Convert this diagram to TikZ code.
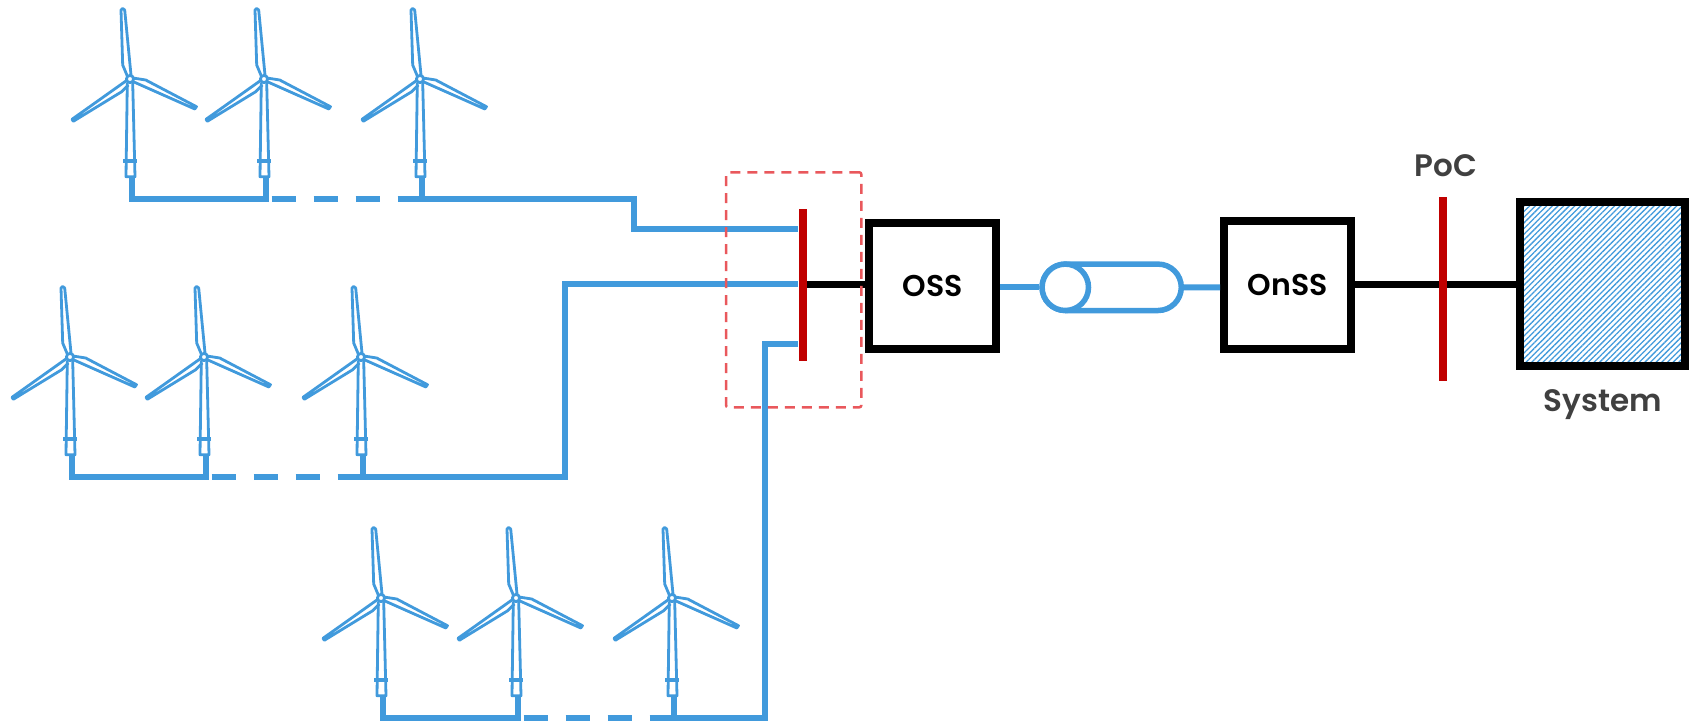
\documentclass[tikz,border=0pt]{standalone}
\usepackage{fontspec}
\setmainfont{Poppins}[BoldFont={Poppins SemiBold}]
\usepackage{xcolor}
\usetikzlibrary{positioning,patterns.meta,shapes.misc}
\definecolor{cableblue}{HTML}{419ADC}
\definecolor{busred}{HTML}{C00000}
\definecolor{zonered}{HTML}{E9585C}
\definecolor{labelgrey}{HTML}{404040}
\tikzset{
  turbine/.pic={
    \draw[blade] (-2.7,-3) -- (-7.3,-14) -- (-9,-69) -- (-7.3,-70.5) -- (-5.3,-69) -- (1,-4);
    \draw[blade] (3,-1) -- (15.7,1) -- (66.5,27.7) -- (64.8,30) -- (3.3,2.7);
    \draw[blade] (-2.7,1) -- (-58,40.3) -- (-56.7,42.3) -- (-8.3,12.7) -- (-1.7,6);
    \draw[blade] (-2.7,3.7) -- (-4,97.7) -- (5,97.7) -- (2.7,3.7);
    \draw[blade, line width=1.8pt] (-6.7,81.7) -- (7.3,81.7);
    \draw[blade, fill=white] (0,0) circle (3.6);
    \coordinate (-foot) at (1.7,97.7);
    \coordinate (-tap) at (1.7,120);
  }
}
\begin{document}
\begin{tikzpicture}[
      x=0.5pt, y=-0.5pt,
      node distance=3pt,
      blade/.style={draw=cableblue, line width=1.4pt, line join=round},
      feeder/.style={cableblue, line width=3pt},
      broken/.style={feeder, dash pattern=on 12pt off 9pt},
      link/.style={black, line width=3.4pt},
      subst/.style={draw=black, fill=white, line width=4pt, minimum width=63.5pt, minimum height=63.3pt,
                    inner sep=0pt, font=\bfseries\fontsize{15}{18}\selectfont},
      busbar/.style={fill=busred, inner sep=0pt, minimum width=4pt},
      tag/.style={text=labelgrey, inner sep=0pt, font=\bfseries\fontsize{15.5}{18}\selectfont},
      tube/.style={draw=cableblue, line width=2.75pt, inner sep=0pt}
    ]
    \useasboundingbox (0,0) rectangle (1694,723);
    % upper string
    \pic (ta) at (130,79) {turbine};
    \pic (tb) at (264,79) {turbine};
    \pic (tc) at (420,79) {turbine};
    % middle string
    \pic (tm) at (70,357) {turbine};
    \pic (tn) at (204,357) {turbine};
    \pic (to) at (361,357) {turbine};
    % lower string
    \pic (tx) at (381,598) {turbine};
    \pic (ty) at (516,598) {turbine};
    \pic (tz) at (672,598) {turbine};

    \node[busbar, minimum height=76pt] (bus) at (802.7,285) {};
    \node[subst] (oss) at (932.8,286) {\raisebox{-1pt}{OSS}};
    \node[subst, minimum width=63.6pt, minimum height=63.7pt] (onss) at (1287.7,285) {\raisebox{-1pt}{OnSS}};
    \node[subst, minimum width=82.5pt, minimum height=82pt, pattern={Lines[angle=45,distance=2pt,line width=0.65pt]},
          pattern color=cableblue] (system) at (1602.8,284.3) {};
    \node[tube, rounded rectangle, minimum width=69.6pt, minimum height=23.2pt] (cable) at (1111.7,287.3) {};
    \node[tube, circle, fill=white, minimum size=23.2pt] (cablend) at (1065.3,287.3) {};
    \coordinate (ja) at (634,229);
    \coordinate (jb) at (565,284.3);
    \coordinate (jc) at (764.7,343.7);

    \draw[feeder] (ta-foot) -- (ta-tap) -- (tb-tap) -- (tb-foot);
    \draw[broken] ([xshift=3pt]tb-tap) -- (tc-tap);
    \draw[feeder] (tc-foot) -- (tc-tap) -| (ja) -- (bus.west |- ja);
    \draw[feeder] (tm-foot) -- (tm-tap) -- (tn-tap) -- (tn-foot);
    \draw[broken] ([xshift=3pt]tn-tap) -- (to-tap);
    \draw[feeder] (to-foot) -- (to-tap) -| (jb) -- (bus.west |- jb);
    \draw[feeder] (tx-foot) -- (tx-tap) -- (ty-tap) -- (ty-foot);
    \draw[broken] ([xshift=3pt]ty-tap) -- (tz-tap);
    \draw[feeder] (tz-foot) -- (tz-tap) -| (jc) -- (bus.west |- jc);

    \draw[link] (bus.east |- jb) -- (oss.west |- jb);
    \draw[feeder] (oss.east |- cable) -- (cablend);
    \draw[feeder] (cable) -- (onss.west |- cable);
    \draw[link] (onss.east |- system) -- (system.west);
    \node[busbar, minimum height=91.7pt] (poc) at (1443,289) {};
    \node[tag, above=10pt of poc, xshift=1.5pt] (poclabel) {PoC};
    \node[tag, below=11pt of system] (systemlabel) {System};
    \node[draw=zonered, line width=1.25pt, dash pattern=on 5pt off 3.5pt, rounded corners=1pt,
          minimum width=67.6pt, minimum height=117.5pt, inner sep=0pt] (zone) at (793.7,289.8) {};
  \end{tikzpicture}
\end{document}
